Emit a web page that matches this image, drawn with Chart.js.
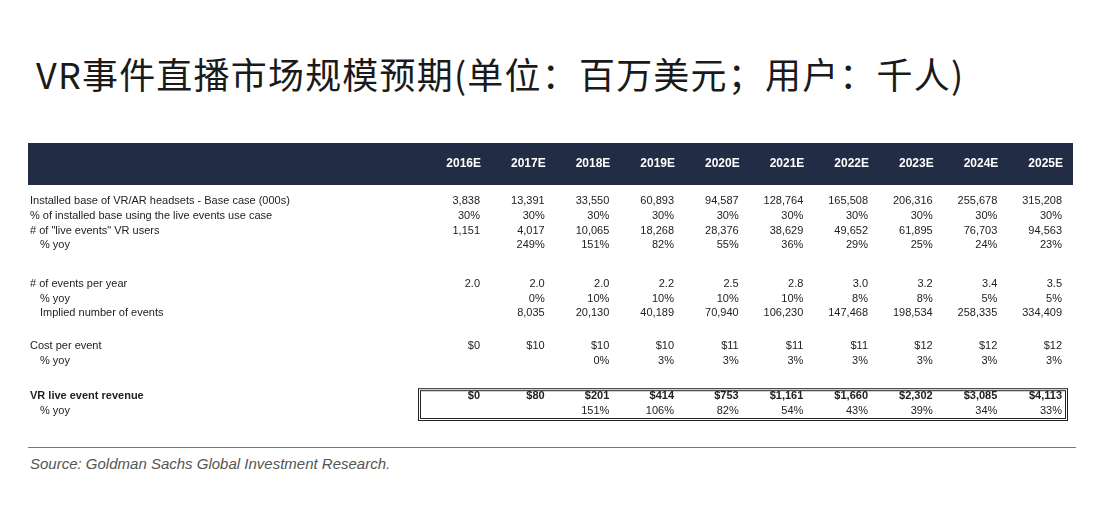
<!DOCTYPE html>
<html><head><meta charset="utf-8">
<script src="https://cdn.jsdelivr.net/npm/chart.js"></script>
<style>
html,body{margin:0;padding:0;background:#fff;width:1096px;height:514px;overflow:hidden;position:relative}
#title{position:absolute;left:36px;top:47px;font-family:"Noto Sans CJK SC";font-weight:400;font-size:36px;color:#1a1a1a;letter-spacing:1.2px;white-space:nowrap}
#src{position:absolute;left:30px;top:455px;font-family:"Liberation Sans";font-style:italic;font-size:15px;color:#555}
#rule{position:absolute;left:28px;top:447px;width:1048px;height:1px;background:#777}
canvas{position:absolute;left:0;top:0}
</style></head><body>
<div id="title">VR事件直播市场规模预期(单位：百万美元；用户：千人)</div>
<div id="rule"></div>
<div id="src">Source: Goldman Sachs Global Investment Research.</div>
<canvas id="c" width="1096" height="514"></canvas>
<script>
const years = ["2016E","2017E","2018E","2019E","2020E","2021E","2022E","2023E","2024E","2025E"];
const installedBase = [3838,13391,33550,60893,94587,128764,165508,206316,255678,315208];
const pctUsing = [30,30,30,30,30,30,30,30,30,30];
const liveUsers = [1151,4017,10065,18268,28376,38629,49652,61895,76703,94563];
const liveUsersYoy = [null,249,151,82,55,36,29,25,24,23];
const eventsPerYear = [2.0,2.0,2.0,2.2,2.5,2.8,3.0,3.2,3.4,3.5];
const eventsYoy = [null,0,10,10,10,10,8,8,5,5];
const impliedEvents = [null,8035,20130,40189,70940,106230,147468,198534,258335,334409];
const costPerEvent = [0,10,10,10,11,11,11,12,12,12];
const costYoy = [null,null,0,3,3,3,3,3,3,3];
const revenue = [0,80,201,414,753,1161,1660,2302,3085,4113];
const revenueYoy = [null,null,151,106,82,54,43,39,34,33];

const num = v => v==null?"":v.toLocaleString("en-US");
const pct = v => v==null?"":v+"%";
const dec = v => v==null?"":v.toFixed(1);
const usd = v => v==null?"":"$"+v.toLocaleString("en-US");

const rows = [
 {label:"Installed base of VR/AR headsets - Base case (000s)", vals:installedBase, f:num, slot:0},
 {label:"% of installed base using the live events use case", vals:pctUsing, f:pct, slot:1},
 {label:"# of \"live events\" VR users", vals:liveUsers, f:num, slot:2},
 {label:"% yoy", vals:liveUsersYoy, f:pct, slot:3, indent:true},
 {label:"# of events per year", vals:eventsPerYear, f:dec, slot:5.6},
 {label:"% yoy", vals:eventsYoy, f:pct, slot:6.6, indent:true},
 {label:"Implied number of events", vals:impliedEvents, f:num, slot:7.6, indent:true},
 {label:"Cost per event", vals:costPerEvent, f:usd, slot:9.8},
 {label:"% yoy", vals:costYoy, f:pct, slot:10.8, indent:true},
 {label:"VR live event revenue", vals:revenue, f:usd, slot:13.2, bold:true},
 {label:"% yoy", vals:revenueYoy, f:pct, slot:14.2, indent:true},
];

const tablePlugin = {
 id:"table",
 afterDraw(chart){
  const ctx=chart.ctx, x=chart.scales.x, y=chart.scales.y;
  ctx.save();
  ctx.fillStyle="#232c45"; ctx.fillRect(28,143,1045,42);
  ctx.textBaseline="middle";
  ctx.font="bold 12px 'Liberation Sans Narrow','Liberation Sans'";
  ctx.fillStyle="#fff"; ctx.textAlign="right";
  years.forEach((yr,i)=>ctx.fillText(yr,x.getPixelForValue(i)+1,164));
  const r0=y.getPixelForValue(13.2)-8, r1=y.getPixelForValue(14.2)+9;
  ctx.strokeStyle="#222"; ctx.lineWidth=1;
  ctx.strokeRect(418.5,r0+0.5,649,r1-r0); ctx.strokeRect(420.5,r0+2.5,645,r1-r0-4);
  rows.forEach(r=>{
   const py=y.getPixelForValue(r.slot);
   ctx.fillStyle="#222"; ctx.textAlign="left";
   ctx.font=(r.bold?"bold ":"")+"11px 'Liberation Sans'";
   ctx.fillText(r.label, r.indent?40:30, py);
   ctx.textAlign="right";
   r.vals.forEach((v,i)=>ctx.fillText(r.f(v), x.getPixelForValue(i), py));
  });
  ctx.restore();
 }
};

new Chart(document.getElementById("c"),{
 type:"line",
 data:{labels:years,datasets:[{data:[],pointRadius:0}]},
 options:{responsive:false,animation:false,
  layout:{padding:{left:480,right:34,top:201,bottom:103}},
  plugins:{legend:{display:false},tooltip:{enabled:false}},
  scales:{
   x:{type:"category",offset:false,display:false},
   y:{type:"linear",min:0,max:14.2,reverse:true,display:false}
  }},
 plugins:[tablePlugin]
});
</script></body></html>
